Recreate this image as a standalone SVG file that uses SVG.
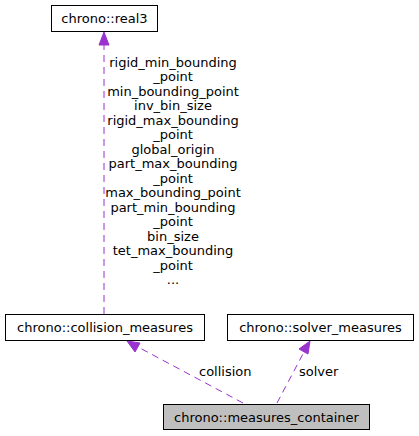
<svg xmlns="http://www.w3.org/2000/svg" width="419" height="436" viewBox="0 0 419 436">
<style>
text{font-family:"DejaVu Sans",sans-serif;font-size:13px;fill:#000}
.box{fill:#fff;stroke:#000;stroke-width:1}
.edge{fill:none;stroke:#9a32cd;stroke-width:1;stroke-dasharray:7,5}
.head{fill:#9a32cd;stroke:#9a32cd}
</style>
<rect width="419" height="436" fill="#fff"/>
<g id="connectors">
<path class="edge" d="M104,314 V44"/>
<polygon class="head" points="104,32 99,45 109,45"/>
<g text-anchor="middle">
<text x="173" y="67">rigid_min_bounding</text>
<text x="173" y="81">_point</text>
<text x="173" y="96">min_bounding_point</text>
<text x="173" y="110">inv_bin_size</text>
<text x="173" y="125">rigid_max_bounding</text>
<text x="173" y="139">_point</text>
<text x="173" y="154">global_origin</text>
<text x="173" y="168">part_max_bounding</text>
<text x="173" y="183">_point</text>
<text x="173" y="197">max_bounding_point</text>
<text x="173" y="212">part_min_bounding</text>
<text x="173" y="226">_point</text>
<text x="173" y="241">bin_size</text>
<text x="173" y="255">tet_max_bounding</text>
<text x="173" y="270">_point</text>
<text x="173" y="284">...</text>
</g>
<path class="edge" d="M243,403 L138,347"/>
<polygon class="head" points="127,341 140,343 135,352"/>
<text x="199" y="376">collision</text>
<path class="edge" d="M277,403 L304,352"/>
<polygon class="head" points="310,341 308,354 299,349"/>
<text x="299" y="376">solver</text>
</g>
<g id="real3">
<rect class="box" x="51.5" y="5.5" width="106" height="26"/>
<text x="104.5" y="23" text-anchor="middle">chrono::real3</text>
</g>
<g id="collision_measures">
<rect class="box" x="5.5" y="314.5" width="199" height="26"/>
<text x="105" y="332" text-anchor="middle">chrono::collision_measures</text>
</g>
<g id="solver_measures">
<rect class="box" x="227.5" y="314.5" width="186" height="26"/>
<text x="320.5" y="332" text-anchor="middle">chrono::solver_measures</text>
</g>
<g id="measures_container">
<rect x="163.5" y="404.5" width="206" height="25" fill="#bfbfbf" stroke="#000"/>
<text x="266.5" y="421.5" text-anchor="middle">chrono::measures_container</text>
</g>
</svg>
